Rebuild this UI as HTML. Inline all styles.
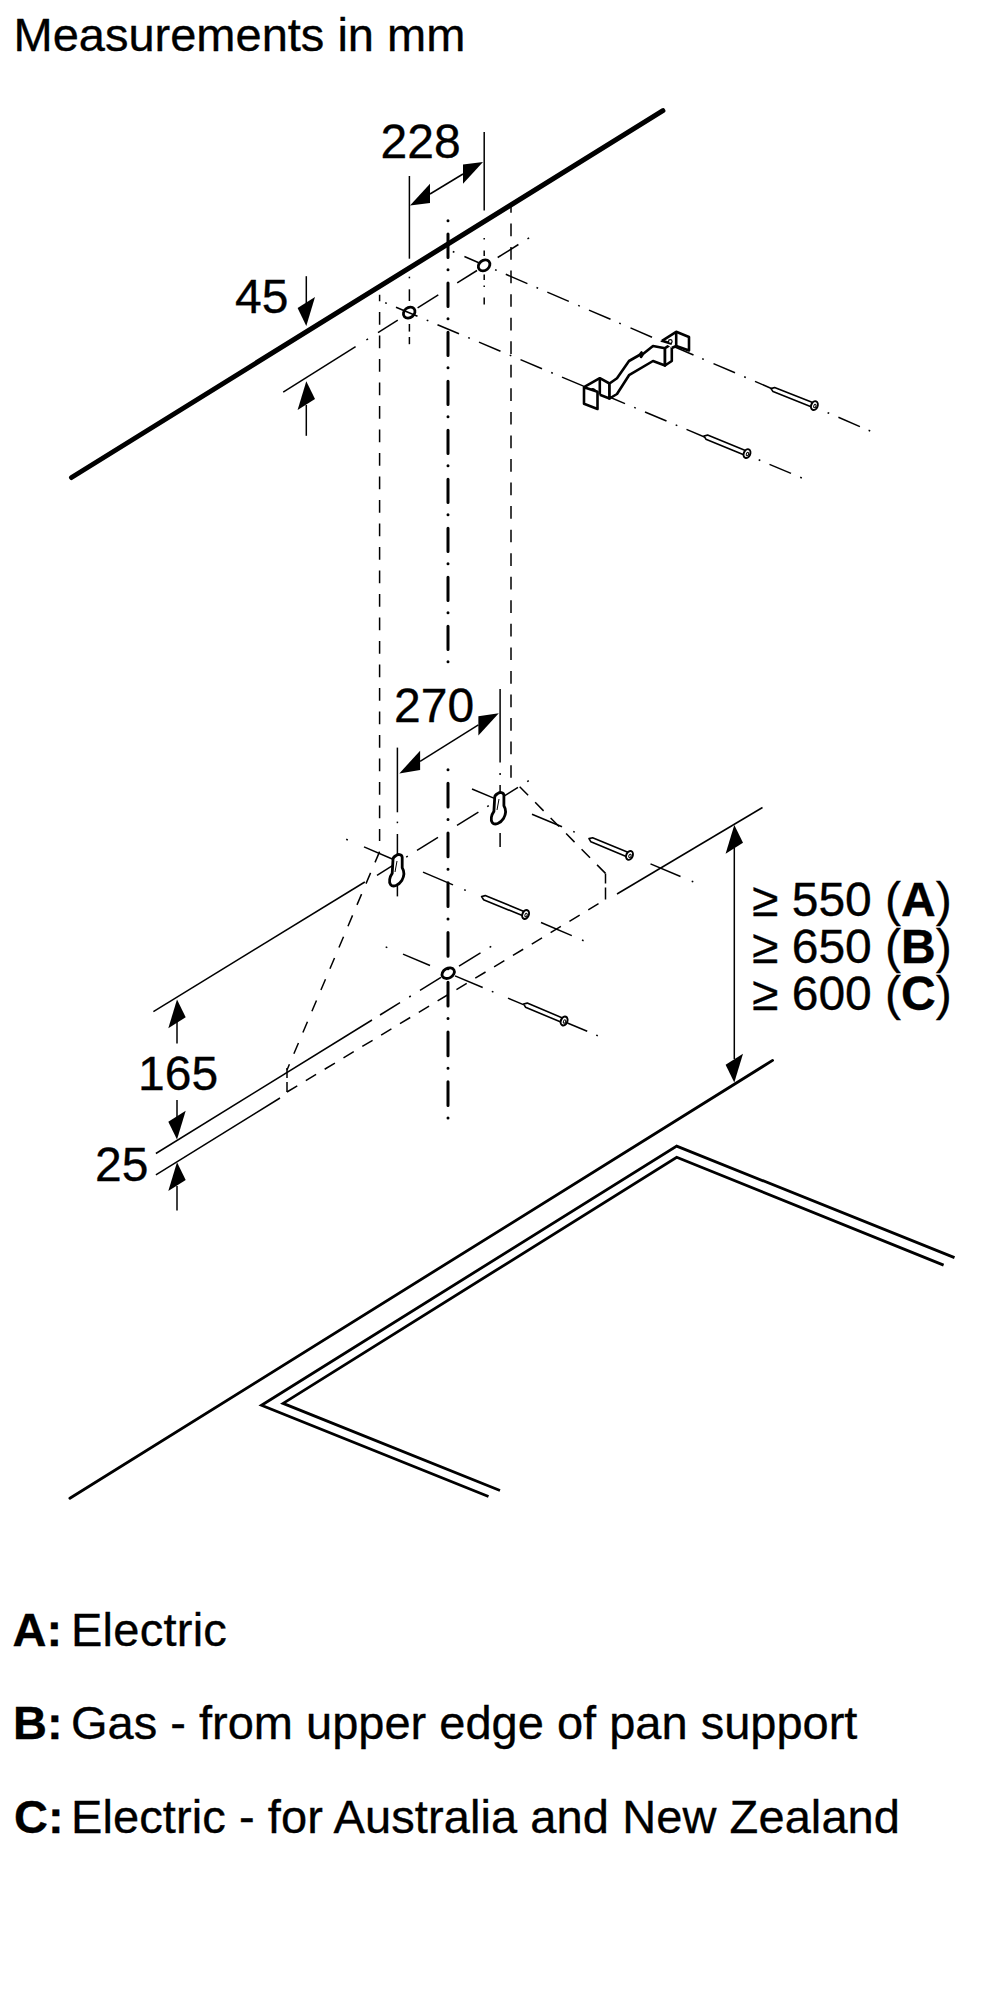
<!DOCTYPE html>
<html><head><meta charset="utf-8"><style>
html,body{margin:0;padding:0;background:#fff;}
svg{display:block;font-family:"Liberation Sans",sans-serif;}
</style></head><body>
<svg width="1000" height="2000" viewBox="0 0 1000 2000" stroke="#000" fill="none">
<text x="13.5" y="51" font-size="47" font-weight="400" stroke="#000" stroke-width="0.35" fill="#000">Measurements in mm</text>
<line x1="71.5" y1="477.5" x2="662.9" y2="110.7" stroke-width="5" stroke-linecap="round"/>
<text x="380.5" y="158.3" font-size="48" font-weight="400" stroke="#000" stroke-width="0.35" fill="#000">228</text>
<line x1="409.4" y1="176.0" x2="409.4" y2="258.7" stroke-width="1.5" />
<line x1="484.2" y1="132.0" x2="484.2" y2="210.5" stroke-width="1.5" />
<line x1="430.0" y1="194.0" x2="463.0" y2="174.0" stroke-width="1.5" />
<polygon points="410.0,205.5 430.0,183.8 430.0,203.0" stroke="none" fill="#000"/>
<polygon points="483.0,162.0 463.0,164.5 463.0,183.7" stroke="none" fill="#000"/>
<text x="235" y="313" font-size="48" font-weight="400" stroke="#000" stroke-width="0.35" fill="#000">45</text>
<line x1="306.3" y1="276.2" x2="306.3" y2="303.0" stroke-width="1.5" />
<polygon points="306.3,325.9 297.6,308.1 315.0,297.1" stroke="none" fill="#000"/>
<line x1="306.3" y1="405.0" x2="306.3" y2="435.8" stroke-width="1.5" />
<polygon points="306.3,381.2 297.6,410.0 315.0,399.0" stroke="none" fill="#000"/>
<line x1="283.2" y1="392.2" x2="355.6" y2="346.7" stroke-width="1.5" />
<line x1="378.0" y1="332.7" x2="397.8" y2="320.2" stroke-width="1.5" />
<line x1="417.6" y1="307.8" x2="438.3" y2="294.8" stroke-width="1.5" />
<line x1="457.2" y1="282.9" x2="477.0" y2="270.5" stroke-width="1.5" />
<line x1="497.7" y1="257.5" x2="518.4" y2="244.5" stroke-width="1.5" />
<line x1="366.4" y1="340.0" x2="368.0" y2="338.9" stroke-width="1.5" />
<line x1="527.5" y1="238.8" x2="529.1" y2="237.8" stroke-width="1.5" />
<line x1="464.4" y1="256.5" x2="478.8" y2="262.7" stroke-width="1.5" />
<line x1="505.8" y1="274.3" x2="527.4" y2="283.6" stroke-width="1.5" />
<line x1="547.3" y1="292.1" x2="568.8" y2="301.4" stroke-width="1.5" />
<line x1="589.0" y1="310.1" x2="610.5" y2="319.3" stroke-width="1.5" />
<line x1="630.5" y1="327.9" x2="652.0" y2="337.2" stroke-width="1.5" />
<line x1="672.0" y1="345.8" x2="693.5" y2="355.0" stroke-width="1.5" />
<line x1="713.5" y1="363.6" x2="735.0" y2="372.8" stroke-width="1.5" />
<line x1="755.0" y1="381.4" x2="776.5" y2="390.7" stroke-width="1.5" />
<line x1="838.4" y1="417.3" x2="859.9" y2="426.6" stroke-width="1.5" />
<line x1="452.8" y1="251.5" x2="454.4" y2="252.2" stroke-width="1.5" />
<line x1="495.1" y1="269.7" x2="496.7" y2="270.4" stroke-width="1.5" />
<line x1="536.5" y1="287.5" x2="538.1" y2="288.2" stroke-width="1.5" />
<line x1="578.2" y1="305.4" x2="579.8" y2="306.1" stroke-width="1.5" />
<line x1="619.2" y1="323.1" x2="620.8" y2="323.7" stroke-width="1.5" />
<line x1="660.7" y1="340.9" x2="662.3" y2="341.6" stroke-width="1.5" />
<line x1="702.2" y1="358.7" x2="703.8" y2="359.4" stroke-width="1.5" />
<line x1="744.2" y1="376.8" x2="745.8" y2="377.5" stroke-width="1.5" />
<line x1="827.6" y1="412.7" x2="829.2" y2="413.3" stroke-width="1.5" />
<line x1="868.6" y1="430.3" x2="870.2" y2="431.0" stroke-width="1.5" />
<line x1="396.0" y1="307.2" x2="417.5" y2="316.3" stroke-width="1.5" />
<line x1="437.5" y1="324.7" x2="459.0" y2="333.7" stroke-width="1.5" />
<line x1="479.0" y1="342.1" x2="500.5" y2="351.2" stroke-width="1.5" />
<line x1="520.5" y1="359.6" x2="542.0" y2="368.7" stroke-width="1.5" />
<line x1="562.0" y1="377.1" x2="583.5" y2="386.1" stroke-width="1.5" />
<line x1="603.5" y1="394.5" x2="625.0" y2="403.6" stroke-width="1.5" />
<line x1="645.0" y1="412.0" x2="666.5" y2="421.0" stroke-width="1.5" />
<line x1="686.5" y1="429.4" x2="708.0" y2="438.5" stroke-width="1.5" />
<line x1="728.0" y1="446.9" x2="749.5" y2="455.9" stroke-width="1.5" />
<line x1="769.5" y1="464.4" x2="791.0" y2="473.4" stroke-width="1.5" />
<line x1="385.2" y1="302.7" x2="386.8" y2="303.4" stroke-width="1.5" />
<line x1="426.7" y1="320.1" x2="428.3" y2="320.8" stroke-width="1.5" />
<line x1="468.2" y1="337.6" x2="469.8" y2="338.3" stroke-width="1.5" />
<line x1="509.7" y1="355.1" x2="511.3" y2="355.7" stroke-width="1.5" />
<line x1="551.2" y1="372.5" x2="552.8" y2="373.2" stroke-width="1.5" />
<line x1="592.7" y1="390.0" x2="594.3" y2="390.7" stroke-width="1.5" />
<line x1="634.2" y1="407.4" x2="635.8" y2="408.1" stroke-width="1.5" />
<line x1="675.7" y1="424.9" x2="677.3" y2="425.6" stroke-width="1.5" />
<line x1="717.2" y1="442.4" x2="718.8" y2="443.0" stroke-width="1.5" />
<line x1="758.7" y1="459.8" x2="760.3" y2="460.5" stroke-width="1.5" />
<line x1="800.2" y1="477.3" x2="801.8" y2="478.0" stroke-width="1.5" />
<line x1="409.4" y1="276.7" x2="409.4" y2="278.3" stroke-width="1.5" />
<line x1="409.4" y1="289.3" x2="409.4" y2="301.0" stroke-width="1.5" />
<line x1="409.4" y1="324.0" x2="409.4" y2="331.6" stroke-width="1.5" />
<line x1="409.4" y1="337.0" x2="409.4" y2="344.2" stroke-width="1.5" />
<line x1="484.2" y1="238.0" x2="484.2" y2="239.6" stroke-width="1.5" />
<line x1="484.2" y1="250.6" x2="484.2" y2="256.0" stroke-width="1.5" />
<line x1="484.2" y1="274.5" x2="484.2" y2="280.0" stroke-width="1.5" />
<line x1="484.2" y1="285.4" x2="484.2" y2="287.0" stroke-width="1.5" />
<line x1="484.2" y1="297.4" x2="484.2" y2="304.6" stroke-width="1.5" />
<line x1="448.0" y1="220.7" x2="448.0" y2="662.5" stroke-width="3" stroke-dasharray="0.01 13.4 23.4 12.2" stroke-linecap="round"/>
<line x1="379.6" y1="294.7" x2="379.6" y2="841.0" stroke-width="1.5" stroke-dasharray="12.75 10.75" stroke-dashoffset="6.2"/>
<line x1="511.0" y1="206.0" x2="511.0" y2="778.0" stroke-width="1.5" stroke-dasharray="12.7 10.85" stroke-dashoffset="6.05"/>
<ellipse cx="409.2" cy="312.6" rx="6.3" ry="5.0" transform="rotate(-40 409.2 312.6)" stroke-width="2.8" fill="none"/>
<ellipse cx="484.1" cy="265.4" rx="6.3" ry="5.0" transform="rotate(-40 484.1 265.4)" stroke-width="2.8" fill="none"/>
<path d="M584.0,387.2 L599.8,378.2 L609.5,383.5 L609.5,398.5 L599.8,394.8" stroke-width="2.6" fill="#fff" stroke-linejoin="round"/>
<path d="M584.0,387.2 L584.0,403.8 L597.5,409.0 L597.5,391.8 Z" stroke-width="2.6" fill="#fff" stroke-linejoin="round"/>
<path d="M590.5,389.5 A3,3 0 0 1 596,391.2 Z" fill="#000" stroke="none"/>
<path d="M599.8,378.2 L599.8,394.8" stroke-width="2.6" fill="none" />
<path d="M609.5,383.5 L617.0,378.2 L629.0,361.0 L639.5,355.0 L641.5,352.5 L641.0,357.0 L643.0,354.0 L653.0,346.0 L665.0,348.2 L665.0,365.5 L653.0,361.0 L629.0,375.2 L617.0,394.0 L609.5,398.5 Z" stroke-width="2.6" fill="#fff" stroke-linejoin="round"/>
<path d="M665.0,348.2 L671.8,343.8 L671.8,361.0 L665.0,365.5 Z" stroke-width="2.6" fill="#fff" stroke-linejoin="round"/>
<path d="M662.0,340.8 L676.2,331.8 L689.0,337.0 L689.0,350.5 L676.2,346.0 L671.8,348.0" stroke-width="2.6" fill="#fff" stroke-linejoin="round"/>
<path d="M662.0,340.8 L671.8,343.8" stroke-width="2.6" fill="none" />
<path d="M676.2,331.8 L676.2,346.0" stroke-width="2.6" fill="none" />
<circle cx="670.3" cy="341.5" r="1.8" stroke-width="1.2" fill="#fff"/>
<path d="M771.0,388.5 L773.0,391.6 L811.7,406.9 L813.3,402.8 L774.6,387.6 Z" stroke-width="1.6" fill="#fff" stroke-linejoin="round"/>
<ellipse cx="814.4" cy="405.6" rx="3.2" ry="4.6" transform="rotate(21.5 814.4 405.6)" stroke-width="2" fill="#fff"/>
<ellipse cx="815.0" cy="405.9" rx="1.1" ry="1.8" transform="rotate(21.5 814.4 405.6)" stroke-width="1" fill="none"/>
<path d="M704.0,436.0 L705.9,439.2 L744.3,454.9 L746.0,450.8 L707.6,435.1 Z" stroke-width="1.6" fill="#fff" stroke-linejoin="round"/>
<ellipse cx="747.0" cy="453.6" rx="3.2" ry="4.6" transform="rotate(22.3 747.0 453.6)" stroke-width="2" fill="#fff"/>
<ellipse cx="747.6" cy="453.9" rx="1.1" ry="1.8" transform="rotate(22.3 747.0 453.6)" stroke-width="1" fill="none"/>
<text x="394" y="722" font-size="48" font-weight="400" stroke="#000" stroke-width="0.35" fill="#000">270</text>
<line x1="500.1" y1="689.1" x2="500.1" y2="762.6" stroke-width="1.5" />
<line x1="397.4" y1="747.6" x2="397.4" y2="812.3" stroke-width="1.5" />
<line x1="420.1" y1="761.3" x2="478.4" y2="724.9" stroke-width="1.5" />
<polygon points="399.3,773.4 420.1,750.8 420.1,770.0" stroke="none" fill="#000"/>
<polygon points="498.8,713.2 478.4,716.3 478.4,735.5" stroke="none" fill="#000"/>
<line x1="500.1" y1="773.0" x2="500.1" y2="775.0" stroke-width="1.5" />
<line x1="500.1" y1="785.0" x2="500.1" y2="793.0" stroke-width="1.5" />
<line x1="500.1" y1="833.0" x2="500.1" y2="847.0" stroke-width="1.5" />
<line x1="397.4" y1="821.6" x2="397.4" y2="823.2" stroke-width="1.5" />
<line x1="397.4" y1="834.0" x2="397.4" y2="854.8" stroke-width="1.5" />
<line x1="397.4" y1="885.2" x2="397.4" y2="896.4" stroke-width="1.5" />
<line x1="448.0" y1="769.7" x2="448.0" y2="1118.5" stroke-width="3" stroke-dasharray="0.01 13.6 23.6 12.55" stroke-linecap="round"/>
<line x1="153.4" y1="1011.6" x2="364.8" y2="882.0" stroke-width="1.5" />
<line x1="377.0" y1="875.3" x2="400.0" y2="860.9" stroke-width="1.5" />
<line x1="417.0" y1="850.3" x2="438.0" y2="837.3" stroke-width="1.5" />
<line x1="457.0" y1="825.4" x2="478.4" y2="812.1" stroke-width="1.5" />
<line x1="504.0" y1="796.1" x2="518.0" y2="787.4" stroke-width="1.5" />
<line x1="406.2" y1="857.1" x2="407.8" y2="856.1" stroke-width="1.5" />
<line x1="487.2" y1="806.6" x2="488.8" y2="805.6" stroke-width="1.5" />
<line x1="527.2" y1="781.7" x2="528.8" y2="780.7" stroke-width="1.5" />
<line x1="155.9" y1="1153.5" x2="372.0" y2="1020.0" stroke-width="1.5" />
<line x1="380.0" y1="1015.0" x2="400.0" y2="1002.7" stroke-width="1.5" />
<line x1="420.0" y1="990.3" x2="441.0" y2="977.3" stroke-width="1.5" />
<line x1="459.0" y1="966.2" x2="480.5" y2="952.9" stroke-width="1.5" />
<line x1="409.2" y1="997.0" x2="410.8" y2="996.0" stroke-width="1.5" />
<line x1="489.6" y1="947.3" x2="491.2" y2="946.3" stroke-width="1.5" />
<line x1="155.9" y1="1174.8" x2="280.0" y2="1098.0" stroke-width="1.5" />
<line x1="364.0" y1="846.9" x2="394.0" y2="859.7" stroke-width="1.5" />
<line x1="423.0" y1="872.1" x2="453.0" y2="884.9" stroke-width="1.5" />
<line x1="541.0" y1="922.5" x2="571.8" y2="935.6" stroke-width="1.5" />
<line x1="346.2" y1="839.3" x2="347.8" y2="840.0" stroke-width="1.5" />
<line x1="464.2" y1="889.7" x2="465.8" y2="890.4" stroke-width="1.5" />
<line x1="582.0" y1="940.0" x2="583.6" y2="940.7" stroke-width="1.5" />
<line x1="472.0" y1="789.0" x2="495.0" y2="798.6" stroke-width="1.5" />
<line x1="532.0" y1="814.2" x2="562.0" y2="826.8" stroke-width="1.5" />
<line x1="650.5" y1="863.9" x2="680.5" y2="876.5" stroke-width="1.5" />
<line x1="573.2" y1="831.5" x2="574.8" y2="832.1" stroke-width="1.5" />
<line x1="691.7" y1="881.2" x2="693.3" y2="881.8" stroke-width="1.5" />
<line x1="403.0" y1="954.1" x2="430.0" y2="965.5" stroke-width="1.5" />
<line x1="455.0" y1="975.9" x2="482.7" y2="987.5" stroke-width="1.5" />
<line x1="508.0" y1="998.1" x2="523.4" y2="1004.6" stroke-width="1.5" />
<line x1="567.4" y1="1023.0" x2="587.2" y2="1031.3" stroke-width="1.5" />
<line x1="385.7" y1="946.9" x2="387.3" y2="947.6" stroke-width="1.5" />
<line x1="491.8" y1="991.4" x2="493.4" y2="992.0" stroke-width="1.5" />
<line x1="596.2" y1="1035.1" x2="597.8" y2="1035.8" stroke-width="1.5" />
<line x1="379.6" y1="851.6" x2="287.0" y2="1070.0" stroke-width="1.5" stroke-dasharray="11.7 11.4"/>
<line x1="287.0" y1="1068.0" x2="287.0" y2="1092.0" stroke-width="1.5" stroke-dasharray="10 4 10"/>
<line x1="287.0" y1="1092.0" x2="605.5" y2="899.5" stroke-width="1.5" stroke-dasharray="12 10"/>
<line x1="605.5" y1="899.5" x2="605.5" y2="873.4" stroke-width="1.5" stroke-dasharray="12 4 12"/>
<line x1="605.5" y1="873.4" x2="519.4" y2="786.4" stroke-width="1.5" stroke-dasharray="12 10"/>
<path d="M396,855.6 C397.7,853.8 402,854.2 402.2,857.4 L402.2,867.8 C404.2,871 404.4,876 401.8,880.6 C399,885.2 393,887.6 390.6,884.6 C388.6,882 389.6,877 392.2,873.4 L393,859.6 C393,857.6 394.2,856.4 396,855.6 Z" transform="translate(0 0)" stroke-width="2.8" fill="#fff" stroke-linejoin="round"/>
<path d="M396,855.6 C397.7,853.8 402,854.2 402.2,857.4 L402.2,867.8 C404.2,871 404.4,876 401.8,880.6 C399,885.2 393,887.6 390.6,884.6 C388.6,882 389.6,877 392.2,873.4 L393,859.6 C393,857.6 394.2,856.4 396,855.6 Z" transform="translate(101.7 -62)" stroke-width="2.8" fill="#fff" stroke-linejoin="round"/>
<line x1="397.0" y1="861.0" x2="395.0" y2="872.0" stroke-width="1" />
<line x1="499.0" y1="799.0" x2="497.0" y2="810.0" stroke-width="1" />
<ellipse cx="448.2" cy="973.2" rx="6.6" ry="4.8" transform="rotate(-30 448.2 973.2)" stroke-width="2.8" fill="none"/>
<path d="M481.6,896.5 L483.5,899.7 L522.9,915.8 L524.6,911.7 L485.2,895.6 Z" stroke-width="1.6" fill="#fff" stroke-linejoin="round"/>
<ellipse cx="525.6" cy="914.5" rx="3.2" ry="4.6" transform="rotate(22.2 525.6 914.5)" stroke-width="2" fill="#fff"/>
<ellipse cx="526.2" cy="914.8" rx="1.1" ry="1.8" transform="rotate(22.2 525.6 914.5)" stroke-width="1" fill="none"/>
<path d="M589.0,838.6 L590.9,841.8 L626.8,856.7 L628.5,852.6 L592.6,837.7 Z" stroke-width="1.6" fill="#fff" stroke-linejoin="round"/>
<ellipse cx="629.5" cy="855.4" rx="3.2" ry="4.6" transform="rotate(22.5 629.5 855.4)" stroke-width="2" fill="#fff"/>
<ellipse cx="630.1" cy="855.7" rx="1.1" ry="1.8" transform="rotate(22.5 629.5 855.4)" stroke-width="1" fill="none"/>
<path d="M523.6,1004.0 L525.5,1007.2 L561.4,1022.3 L563.1,1018.2 L527.2,1003.1 Z" stroke-width="1.6" fill="#fff" stroke-linejoin="round"/>
<ellipse cx="564.1" cy="1021.0" rx="3.2" ry="4.6" transform="rotate(22.8 564.1 1021.0)" stroke-width="2" fill="#fff"/>
<ellipse cx="564.7" cy="1021.3" rx="1.1" ry="1.8" transform="rotate(22.8 564.1 1021.0)" stroke-width="1" fill="none"/>
<text x="138" y="1090" font-size="48" font-weight="400" stroke="#000" stroke-width="0.35" fill="#000">165</text>
<text x="95" y="1181" font-size="48" font-weight="400" stroke="#000" stroke-width="0.35" fill="#000">25</text>
<line x1="177.0" y1="1022.0" x2="177.0" y2="1043.5" stroke-width="1.5" />
<polygon points="177.0,999.5 168.3,1028.3 185.7,1017.3" stroke="none" fill="#000"/>
<line x1="177.0" y1="1100.0" x2="177.0" y2="1117.0" stroke-width="1.5" />
<polygon points="177.0,1139.5 168.3,1121.7 185.7,1110.7" stroke="none" fill="#000"/>
<line x1="177.0" y1="1186.0" x2="177.0" y2="1210.5" stroke-width="1.5" />
<polygon points="177.0,1162.2 168.3,1191.0 185.7,1180.0" stroke="none" fill="#000"/>
<line x1="617.0" y1="894.0" x2="762.5" y2="807.5" stroke-width="1.5" />
<line x1="734.3" y1="848.0" x2="734.3" y2="1059.0" stroke-width="1.5" />
<polygon points="734.3,825.0 725.6,853.8 743.0,842.8" stroke="none" fill="#000"/>
<polygon points="734.3,1082.5 725.6,1064.7 743.0,1053.7" stroke="none" fill="#000"/>
<text x="752" y="916" font-size="48" font-weight="400" stroke="#000" stroke-width="0.35" fill="#000">≥ 550 (<tspan font-weight="700">A</tspan>)</text>
<text x="752" y="963" font-size="48" font-weight="400" stroke="#000" stroke-width="0.35" fill="#000">≥ 650 (<tspan font-weight="700">B</tspan>)</text>
<text x="752" y="1010" font-size="48" font-weight="400" stroke="#000" stroke-width="0.35" fill="#000">≥ 600 (<tspan font-weight="700">C</tspan>)</text>
<line x1="69.9" y1="1498.3" x2="772.6" y2="1060.4" stroke-width="2.8" stroke-linecap="round"/>
<path d="M488.5,1496.5 L261.5,1405.2 L676.7,1146.1 L954.5,1257.6" stroke-width="2.8" fill="none" />
<path d="M500.0,1490.5 L283.1,1403.4 L676.7,1157.3 L943.6,1265.1" stroke-width="2.8" fill="none" />
<text x="12.5" y="1646" font-size="47" font-weight="700" stroke="#000" stroke-width="0.35" fill="#000">A:</text>
<text x="71" y="1646" font-size="47" letter-spacing="0.25" stroke="#000" stroke-width="0.35" fill="#000">Electric</text>
<text x="13" y="1739.4" font-size="47" font-weight="700" stroke="#000" stroke-width="0.35" fill="#000">B:</text>
<text x="71" y="1739.4" font-size="47" font-weight="400" stroke="#000" stroke-width="0.35" fill="#000">Gas - from upper edge of pan support</text>
<text x="14" y="1833.2" font-size="47" font-weight="700" stroke="#000" stroke-width="0.35" fill="#000">C:</text>
<text x="71" y="1833.2" font-size="47" letter-spacing="0.09" stroke="#000" stroke-width="0.35" fill="#000">Electric - for Australia and New Zealand</text>
</svg></body></html>
